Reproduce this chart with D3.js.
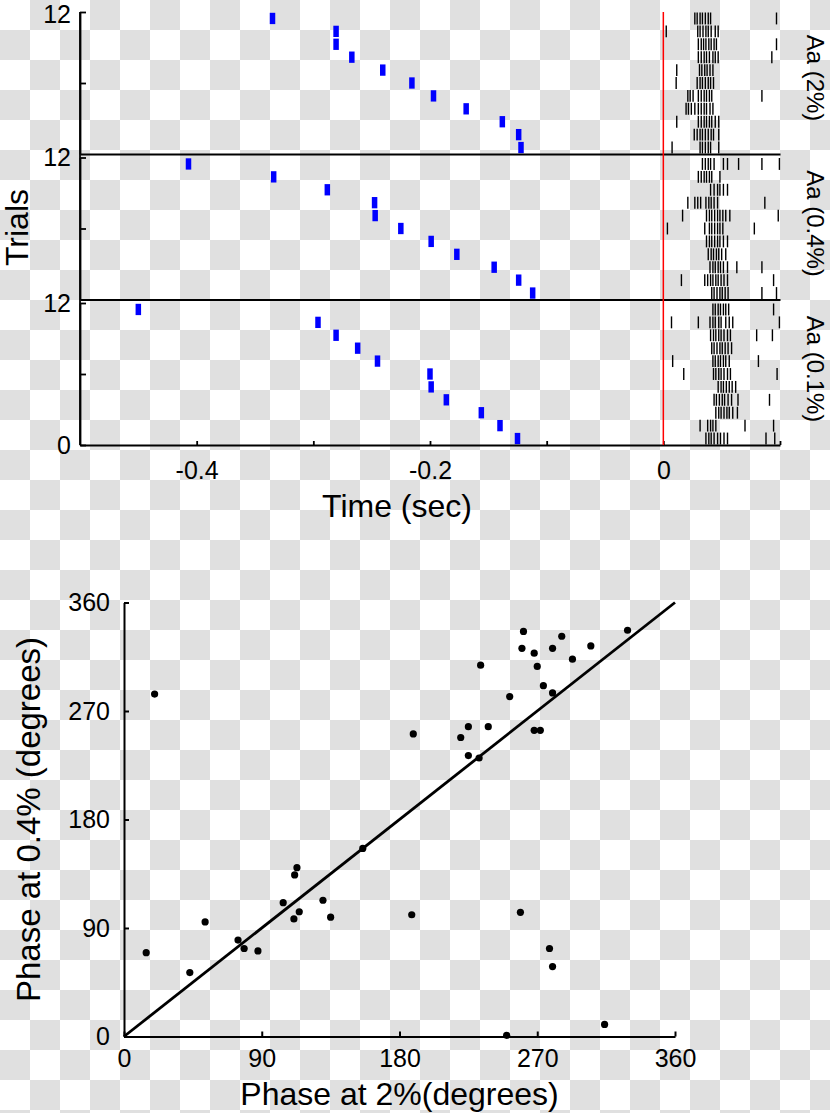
<!DOCTYPE html>
<html>
<head>
<meta charset="utf-8">
<script src="https://cdn.jsdelivr.net/npm/d3@7"></script>
<style>
  body { margin: 0; background: #fff; }
  svg { display: block; }
  text { font-family: "Liberation Sans", Arial, Helvetica, sans-serif; }
</style>
</head>
<body>
<svg id="chart"></svg>
<script>
let width = 830, height = 1113;

// ---- raster data (top trial first) ----
let panelNames = ["Aa (2%)", "Aa (0.4%)", "Aa (0.1%)"];

// odor onset (blue marks), seconds
let onset2 = [-0.335, -0.2805, -0.2805, -0.267, -0.2405, -0.2155, -0.197, -0.169, -0.138, -0.124, -0.122];
let onset04 = [-0.407, -0.334, -0.288, -0.2475, -0.247, -0.225, -0.199, -0.177, -0.145, -0.124, -0.112];
let onset01 = [-0.45, -0.296, -0.2805, -0.262, -0.245, -0.2, -0.199, -0.186, -0.156, -0.14, -0.125];

// spike times, ms
let spikes2 = [
  [27, 29, 31.5, 33.5, 36, 38.5, 40.5, 97],
  [2.5, 29.5, 31.5, 34, 36.5, 38.5, 41, 44.5, 47],
  [30, 32.5, 34.5, 36.5, 39, 41, 43.5, 45.5, 97],
  [30, 32.5, 35, 37, 39.5, 42.5, 44.5, 47, 93],
  [11.5, 31, 33, 35.5, 37.5, 40, 42.5],
  [11, 29, 31.5, 33.5, 36, 38.5, 40.5, 43],
  [21, 23, 25.5, 30, 32.5, 35, 37, 39.5, 41.5, 84.5],
  [19.5, 21.5, 24, 27, 30, 32.5, 35, 37, 40, 42.5],
  [11.5, 30, 32.5, 35, 37, 39.5, 41.5, 44.5, 47.5],
  [26.5, 29, 31.5, 33.5, 36, 38.5, 41, 43, 47.5],
  [7.5, 31.5, 33.5, 36, 38.5, 40.5, 47.5]
];
let spikes04 = [
  [33.5, 36, 38.5, 40.5, 43.5, 51.5, 55, 64.5, 84.5, 99.5],
  [30, 32.5, 35, 37, 39.5, 41.5, 48.5],
  [40.5, 43.5, 46.5, 48.5, 51.5, 55],
  [21, 27, 29.5, 32, 36.5, 39, 41, 43.5, 46.5, 87],
  [16.5, 37, 39.5, 41.5, 44, 46.5, 48.5, 51, 53.5, 57, 98.5],
  [3.5, 35.5, 39.5, 41.5, 44, 46.5, 48.5, 51, 78],
  [37, 39.5, 41.5, 44, 46.5, 48.5, 51.5, 55],
  [38.5, 41, 43, 45.5, 47.5, 50, 53.5],
  [40, 42.5, 44.5, 47, 49, 51.5, 55, 63, 84.5],
  [15.5, 35.5, 38, 40.5, 42.5, 45, 47, 49.5, 52, 55, 94.5],
  [41.5, 43.5, 46, 48.5, 50.5, 53, 55.5, 84.5, 97]
];
let spikes01 = [
  [42.5, 44.5, 47, 49, 51.5, 53.5, 56, 94.5],
  [7, 30, 40, 42.5, 44.5, 47.5, 49.5, 53.5, 56.5, 59.5, 99.5],
  [40.5, 43, 45, 47.5, 49.5, 52, 55, 57.5, 80, 93.5],
  [41.5, 43.5, 46, 48.5, 50.5, 53, 55.5, 58.5],
  [8, 42.5, 44.5, 47, 49, 51.5, 53.5, 56.5, 81.5],
  [17.5, 43, 45, 47.5, 49.5, 52, 55, 57.5, 97.5],
  [47, 49.5, 51.5, 54, 56.5, 59, 62],
  [43.5, 45.5, 48, 50.5, 52.5, 55.5, 58.5, 64, 91],
  [45, 47.5, 49.5, 52, 54.5, 56.5, 59.5, 63.5],
  [31.5, 38, 40.5, 42.5, 45, 70, 94.5],
  [36.5, 39, 41, 43.5, 46.5, 49, 52, 55, 88, 95.5]
];

let timeTicks = [-0.4, -0.3, -0.2, -0.1, 0, 0.1];
let timeLabels = [-0.4, -0.2, 0];

// ---- scatter data (degrees) ----
let phase2 = [261, 260, 268, 280, 286, 305, 329, 293, 270, 233, 274, 280, 252, 225, 238, 189, 220, 268, 272, 225, 232, 20,
  156, 113, 111.5, 104, 130, 114.5, 111, 135, 188, 53, 74.5, 78.5, 87.5, 14.5, 43, 259, 278, 280, 314, 250];
let phase04 = [336, 322, 318, 322, 332, 324, 337, 313, 307, 308, 291, 285, 282, 257, 257, 251, 248, 254, 254, 233, 231, 284,
  156, 140, 134, 111, 113, 103.5, 97.5, 99, 101, 95, 80, 73, 71, 69.5, 53, 103, 73, 58, 10, 1];
let phaseTicks = [0, 90, 180, 270, 360];

let svg = d3.select("#chart").attr("width", width).attr("height", height);

// transparent-png checkerboard
let pat = svg.append("defs").append("pattern")
    .attr("id", "checker")
    .attr("width", 60).attr("height", 60)
    .attr("patternUnits", "userSpaceOnUse");
pat.append("rect").attr("width", 60).attr("height", 60).attr("fill", "#fff");
pat.append("rect").attr("x", 30).attr("width", 30).attr("height", 30).attr("fill", "#e0e0e0");
pat.append("rect").attr("y", 30).attr("width", 30).attr("height", 30).attr("fill", "#e0e0e0");
svg.append("rect").attr("width", width).attr("height", height).attr("fill", "url(#checker)");

// ================= raster =================
let x = d3.scaleLinear().domain([-0.5, 0.1]).range([80, 780]);
let panelTop = 12, panelH = 142, panelGap = 3.5;

let panels = [
  { name: panelNames[0], onset: onset2, spikes: spikes2 },
  { name: panelNames[1], onset: onset04, spikes: spikes04 },
  { name: panelNames[2], onset: onset01, spikes: spikes01 }
];

panels.forEach((p, k) => {
  let top = panelTop + k * (panelH + panelGap);
  let bottom = top + panelH;
  let y = d3.scaleLinear().domain([0, 12]).range([bottom, top]);
  let row = d3.scaleBand().domain(d3.range(p.onset.length)).range([top, bottom]);
  let g = svg.append("g");

  // spikes
  p.spikes.forEach((trial, i) => {
    g.selectAll(null)
      .data(trial)
      .enter()
      .append("line")
      .attr("x1", d => x(d / 1000))
      .attr("x2", d => x(d / 1000))
      .attr("y1", row(i) + 0.5)
      .attr("y2", row(i) + row.bandwidth() - 0.5)
      .attr("stroke", "#000")
      .attr("stroke-width", 1.4);
  });

  // odor onset marks
  g.selectAll(null)
    .data(p.onset)
    .enter()
    .append("rect")
    .attr("x", d => x(d) - 2.75)
    .attr("y", (d, i) => row(i) + 0.8)
    .attr("width", 5.5)
    .attr("height", row.bandwidth() - 1.6)
    .attr("fill", "#0000ff");

  // y axis
  let ya = svg.append("g")
    .attr("transform", "translate(" + x(-0.5) + ",0)")
    .call(d3.axisLeft(y)
      .tickValues(k === 2 ? [0, 6, 12] : [6, 12])
      .tickSizeInner(-6).tickSizeOuter(0).tickPadding(9)
      .tickFormat(d => d === 6 ? "" : d));
  ya.attr("font-size", 25);
  ya.selectAll("path, line").attr("stroke-width", 1.8);
  ya.selectAll("text").attr("dy", (d, i) => d === 12 && k === 0 ? "0.42em" : "0.32em");

  // x axis (panel baseline)
  let xa = svg.append("g")
    .attr("transform", "translate(0," + bottom + ")")
    .call(d3.axisBottom(x)
      .tickValues(k === 2 ? timeTicks : [])
      .tickSizeInner(-4).tickSizeOuter(0).tickPadding(16)
      .tickFormat(d => timeLabels.includes(d) ? String(d) : ""));
  xa.attr("font-size", 25);
  xa.selectAll("path, line").attr("stroke-width", 1.8);

  // panel label on the right
  svg.append("text")
    .attr("transform", "translate(807," + ((top + bottom) / 2 - 5) + ") rotate(90)")
    .attr("text-anchor", "middle")
    .attr("font-size", 24)
    .text(p.name);
});

let rasterBottom = panelTop + 3 * panelH + 2 * panelGap;

// continuous left axis line
svg.append("line")
  .attr("x1", x(-0.5)).attr("x2", x(-0.5))
  .attr("y1", panelTop).attr("y2", rasterBottom)
  .attr("stroke", "#000").attr("stroke-width", 1.8);

// stimulus time
svg.append("line")
  .attr("x1", x(0)).attr("x2", x(0))
  .attr("y1", panelTop).attr("y2", rasterBottom)
  .attr("stroke", "#ff0000").attr("stroke-width", 1.5);

svg.append("text")
  .attr("transform", "translate(28," + ((panelTop + rasterBottom) / 2 - 1) + ") rotate(-90)")
  .attr("text-anchor", "middle")
  .attr("font-size", 32)
  .text("Trials");

svg.append("text")
  .attr("x", 397).attr("y", 517)
  .attr("text-anchor", "middle")
  .attr("font-size", 32)
  .text("Time (sec)");

// ================= scatter =================
let sx = d3.scaleLinear().domain([0, 360]).range([124, 675]);
let sy = d3.scaleLinear().domain([0, 360]).range([1036.5, 602.5]);

let ax = svg.append("g")
  .attr("transform", "translate(0," + sy(0) + ")")
  .call(d3.axisBottom(sx).tickValues(phaseTicks)
    .tickSizeInner(-5).tickSizeOuter(0).tickPadding(13));
ax.attr("font-size", 25);
ax.selectAll("path, line").attr("stroke-width", 2);

let ay = svg.append("g")
  .attr("transform", "translate(" + sx(0) + ",0)")
  .call(d3.axisLeft(sy).tickValues(phaseTicks)
    .tickSizeInner(-5).tickSizeOuter(0).tickPadding(14));
ay.attr("font-size", 25);
ay.selectAll("path, line").attr("stroke-width", 2);

// identity line
svg.append("line")
  .attr("x1", sx(0)).attr("y1", sy(0))
  .attr("x2", sx(360)).attr("y2", sy(360))
  .attr("stroke", "#000").attr("stroke-width", 2.8);

svg.append("g")
  .selectAll("circle")
  .data(phase2)
  .enter()
  .append("circle")
  .attr("cx", d => sx(d))
  .attr("cy", (d, i) => sy(phase04[i]))
  .attr("r", 3.6)
  .attr("fill", "#000");

svg.append("text")
  .attr("x", sx(180)).attr("y", 1105)
  .attr("text-anchor", "middle")
  .attr("font-size", 32)
  .text("Phase at 2%(degrees)");

svg.append("text")
  .attr("transform", "translate(40," + sy(180) + ") rotate(-90)")
  .attr("text-anchor", "middle")
  .attr("font-size", 33)
  .text("Phase at 0.4% (degrees)");
</script>
</body>
</html>
